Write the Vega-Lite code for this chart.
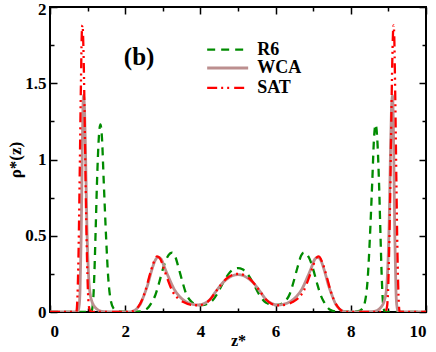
{
  "$schema": "https://vega.github.io/schema/vega-lite/v6.json",
  "width": 376,
  "height": 305,
  "autosize": "none",
  "padding": {"left": 50, "top": 7, "right": 10, "bottom": 40},
  "background": "white",
  "config": {
    "view": {"stroke": "black", "strokeWidth": 2},
    "axis": {
      "labelFont": "Liberation Serif", "labelFontWeight": "bold", "labelFontSize": 17, "labelColor": "black",
      "titleFont": "Liberation Serif", "titleFontWeight": "bold", "titleFontSize": 18, "titleColor": "black",
      "grid": false, "domain": false, "tickColor": "black", "tickWidth": 1.5
    }
  },
  "datasets": {
    "curves": [
      {"s":"R6","x":0,"y":0},{"s":"R6","x":0.5,"y":0},{"s":"R6","x":1.0,"y":0},{"s":"R6","x":1.1,"y":0.005},
      {"s":"R6","x":1.14,"y":0.05},{"s":"R6","x":1.18,"y":0.25},{"s":"R6","x":1.21,"y":0.5},{"s":"R6","x":1.25,"y":0.85},
      {"s":"R6","x":1.3,"y":1.15},{"s":"R6","x":1.34,"y":1.23},{"s":"R6","x":1.38,"y":1.15},{"s":"R6","x":1.43,"y":0.85},
      {"s":"R6","x":1.49,"y":0.5},{"s":"R6","x":1.55,"y":0.22},{"s":"R6","x":1.62,"y":0.07},{"s":"R6","x":1.7,"y":0.02},
      {"s":"R6","x":1.8,"y":0.005},{"s":"R6","x":1.95,"y":0.002},{"s":"R6","x":2.2,"y":0.002},{"s":"R6","x":2.4,"y":0.004},
      {"s":"R6","x":2.55,"y":0.015},{"s":"R6","x":2.7,"y":0.06},{"s":"R6","x":2.8,"y":0.11},{"s":"R6","x":2.9,"y":0.19},
      {"s":"R6","x":3.0,"y":0.28},{"s":"R6","x":3.1,"y":0.35},{"s":"R6","x":3.2,"y":0.385},{"s":"R6","x":3.25,"y":0.39},
      {"s":"R6","x":3.32,"y":0.37},{"s":"R6","x":3.42,"y":0.29},{"s":"R6","x":3.52,"y":0.2},{"s":"R6","x":3.62,"y":0.12},
      {"s":"R6","x":3.75,"y":0.07},{"s":"R6","x":3.9,"y":0.048},{"s":"R6","x":4.05,"y":0.045},{"s":"R6","x":4.2,"y":0.055},
      {"s":"R6","x":4.3,"y":0.07},{"s":"R6","x":4.45,"y":0.12},{"s":"R6","x":4.6,"y":0.19},{"s":"R6","x":4.75,"y":0.25},
      {"s":"R6","x":4.88,"y":0.28},{"s":"R6","x":5.0,"y":0.288},
      {"s":"R6","x":5.12,"y":0.28},{"s":"R6","x":5.25,"y":0.25},{"s":"R6","x":5.4,"y":0.19},{"s":"R6","x":5.55,"y":0.12},
      {"s":"R6","x":5.7,"y":0.07},{"s":"R6","x":5.8,"y":0.055},{"s":"R6","x":5.95,"y":0.045},{"s":"R6","x":6.1,"y":0.048},
      {"s":"R6","x":6.25,"y":0.07},{"s":"R6","x":6.38,"y":0.12},{"s":"R6","x":6.48,"y":0.2},{"s":"R6","x":6.58,"y":0.29},
      {"s":"R6","x":6.68,"y":0.37},{"s":"R6","x":6.75,"y":0.39},{"s":"R6","x":6.8,"y":0.385},{"s":"R6","x":6.9,"y":0.35},
      {"s":"R6","x":7.0,"y":0.28},{"s":"R6","x":7.1,"y":0.19},{"s":"R6","x":7.2,"y":0.11},{"s":"R6","x":7.3,"y":0.06},
      {"s":"R6","x":7.45,"y":0.015},{"s":"R6","x":7.6,"y":0.004},{"s":"R6","x":7.8,"y":0.002},{"s":"R6","x":8.05,"y":0.002},
      {"s":"R6","x":8.2,"y":0.005},{"s":"R6","x":8.3,"y":0.02},{"s":"R6","x":8.38,"y":0.07},{"s":"R6","x":8.45,"y":0.22},
      {"s":"R6","x":8.51,"y":0.5},{"s":"R6","x":8.57,"y":0.85},{"s":"R6","x":8.62,"y":1.15},{"s":"R6","x":8.66,"y":1.23},
      {"s":"R6","x":8.7,"y":1.15},{"s":"R6","x":8.75,"y":0.85},{"s":"R6","x":8.79,"y":0.5},{"s":"R6","x":8.82,"y":0.25},
      {"s":"R6","x":8.86,"y":0.05},{"s":"R6","x":8.9,"y":0.005},{"s":"R6","x":9.0,"y":0},{"s":"R6","x":9.5,"y":0},{"s":"R6","x":10,"y":0},

      {"s":"WCA","x":0,"y":0},{"s":"WCA","x":0.5,"y":0},{"s":"WCA","x":0.74,"y":0},{"s":"WCA","x":0.78,"y":0.05},
      {"s":"WCA","x":0.8,"y":0.15},{"s":"WCA","x":0.83,"y":0.5},{"s":"WCA","x":0.86,"y":1.1},{"s":"WCA","x":0.89,"y":1.42},
      {"s":"WCA","x":0.92,"y":1.32},{"s":"WCA","x":0.95,"y":0.98},{"s":"WCA","x":0.98,"y":0.58},{"s":"WCA","x":1.02,"y":0.27},
      {"s":"WCA","x":1.06,"y":0.13},{"s":"WCA","x":1.12,"y":0.065},{"s":"WCA","x":1.2,"y":0.03},{"s":"WCA","x":1.3,"y":0.01},
      {"s":"WCA","x":1.45,"y":0.002},{"s":"WCA","x":1.8,"y":0},{"s":"WCA","x":2.1,"y":0.001},{"s":"WCA","x":2.2,"y":0.005},
      {"s":"WCA","x":2.3,"y":0.02},{"s":"WCA","x":2.4,"y":0.05},{"s":"WCA","x":2.5,"y":0.11},{"s":"WCA","x":2.6,"y":0.18},
      {"s":"WCA","x":2.7,"y":0.27},{"s":"WCA","x":2.8,"y":0.34},{"s":"WCA","x":2.88,"y":0.36},{"s":"WCA","x":2.96,"y":0.345},
      {"s":"WCA","x":3.05,"y":0.29},{"s":"WCA","x":3.15,"y":0.23},{"s":"WCA","x":3.3,"y":0.15},{"s":"WCA","x":3.45,"y":0.1},
      {"s":"WCA","x":3.6,"y":0.07},{"s":"WCA","x":3.8,"y":0.05},{"s":"WCA","x":3.95,"y":0.046},{"s":"WCA","x":4.1,"y":0.055},
      {"s":"WCA","x":4.25,"y":0.08},{"s":"WCA","x":4.4,"y":0.13},{"s":"WCA","x":4.55,"y":0.18},{"s":"WCA","x":4.7,"y":0.215},
      {"s":"WCA","x":4.85,"y":0.238},{"s":"WCA","x":5.0,"y":0.245},
      {"s":"WCA","x":5.15,"y":0.238},{"s":"WCA","x":5.3,"y":0.215},{"s":"WCA","x":5.45,"y":0.18},{"s":"WCA","x":5.6,"y":0.13},
      {"s":"WCA","x":5.75,"y":0.08},{"s":"WCA","x":5.9,"y":0.055},{"s":"WCA","x":6.05,"y":0.046},{"s":"WCA","x":6.2,"y":0.05},
      {"s":"WCA","x":6.4,"y":0.07},{"s":"WCA","x":6.55,"y":0.1},{"s":"WCA","x":6.7,"y":0.15},{"s":"WCA","x":6.85,"y":0.23},
      {"s":"WCA","x":6.95,"y":0.29},{"s":"WCA","x":7.04,"y":0.345},{"s":"WCA","x":7.12,"y":0.36},{"s":"WCA","x":7.2,"y":0.34},
      {"s":"WCA","x":7.3,"y":0.27},{"s":"WCA","x":7.4,"y":0.18},{"s":"WCA","x":7.5,"y":0.11},{"s":"WCA","x":7.6,"y":0.05},
      {"s":"WCA","x":7.7,"y":0.02},{"s":"WCA","x":7.8,"y":0.005},{"s":"WCA","x":7.9,"y":0.001},{"s":"WCA","x":8.2,"y":0},
      {"s":"WCA","x":8.55,"y":0.002},{"s":"WCA","x":8.7,"y":0.01},{"s":"WCA","x":8.8,"y":0.03},{"s":"WCA","x":8.88,"y":0.065},
      {"s":"WCA","x":8.94,"y":0.13},{"s":"WCA","x":8.98,"y":0.27},{"s":"WCA","x":9.02,"y":0.58},{"s":"WCA","x":9.05,"y":0.98},
      {"s":"WCA","x":9.08,"y":1.32},{"s":"WCA","x":9.11,"y":1.42},{"s":"WCA","x":9.14,"y":1.1},{"s":"WCA","x":9.17,"y":0.5},
      {"s":"WCA","x":9.2,"y":0.15},{"s":"WCA","x":9.22,"y":0.05},{"s":"WCA","x":9.26,"y":0},{"s":"WCA","x":9.5,"y":0},{"s":"WCA","x":10,"y":0},

      {"s":"SAT","x":0,"y":0},{"s":"SAT","x":0.5,"y":0},{"s":"SAT","x":0.7,"y":0},{"s":"SAT","x":0.73,"y":0.1},
      {"s":"SAT","x":0.76,"y":0.4},{"s":"SAT","x":0.79,"y":0.9},{"s":"SAT","x":0.82,"y":1.45},{"s":"SAT","x":0.85,"y":1.85},
      {"s":"SAT","x":0.865,"y":1.88},{"s":"SAT","x":0.89,"y":1.72},{"s":"SAT","x":0.92,"y":1.3},{"s":"SAT","x":0.95,"y":0.8},
      {"s":"SAT","x":0.98,"y":0.4},{"s":"SAT","x":1.01,"y":0.13},{"s":"SAT","x":1.04,"y":0.03},{"s":"SAT","x":1.08,"y":0.005},
      {"s":"SAT","x":1.2,"y":0},{"s":"SAT","x":2.1,"y":0},{"s":"SAT","x":2.25,"y":0.01},{"s":"SAT","x":2.35,"y":0.035},
      {"s":"SAT","x":2.45,"y":0.08},{"s":"SAT","x":2.55,"y":0.15},{"s":"SAT","x":2.65,"y":0.24},{"s":"SAT","x":2.75,"y":0.32},
      {"s":"SAT","x":2.85,"y":0.365},{"s":"SAT","x":2.93,"y":0.35},{"s":"SAT","x":3.02,"y":0.29},{"s":"SAT","x":3.12,"y":0.22},
      {"s":"SAT","x":3.25,"y":0.14},{"s":"SAT","x":3.4,"y":0.09},{"s":"SAT","x":3.55,"y":0.065},{"s":"SAT","x":3.75,"y":0.047},
      {"s":"SAT","x":3.95,"y":0.044},{"s":"SAT","x":4.1,"y":0.053},{"s":"SAT","x":4.25,"y":0.08},{"s":"SAT","x":4.4,"y":0.13},
      {"s":"SAT","x":4.55,"y":0.18},{"s":"SAT","x":4.7,"y":0.22},{"s":"SAT","x":4.85,"y":0.243},{"s":"SAT","x":5.0,"y":0.25},
      {"s":"SAT","x":5.15,"y":0.243},{"s":"SAT","x":5.3,"y":0.22},{"s":"SAT","x":5.45,"y":0.18},{"s":"SAT","x":5.6,"y":0.13},
      {"s":"SAT","x":5.75,"y":0.08},{"s":"SAT","x":5.9,"y":0.053},{"s":"SAT","x":6.05,"y":0.044},{"s":"SAT","x":6.25,"y":0.047},
      {"s":"SAT","x":6.45,"y":0.065},{"s":"SAT","x":6.6,"y":0.09},{"s":"SAT","x":6.75,"y":0.14},{"s":"SAT","x":6.88,"y":0.22},
      {"s":"SAT","x":6.98,"y":0.29},{"s":"SAT","x":7.07,"y":0.35},{"s":"SAT","x":7.15,"y":0.365},{"s":"SAT","x":7.25,"y":0.32},
      {"s":"SAT","x":7.35,"y":0.24},{"s":"SAT","x":7.45,"y":0.15},{"s":"SAT","x":7.55,"y":0.08},{"s":"SAT","x":7.65,"y":0.035},
      {"s":"SAT","x":7.75,"y":0.01},{"s":"SAT","x":7.9,"y":0},{"s":"SAT","x":8.8,"y":0},{"s":"SAT","x":8.92,"y":0.005},
      {"s":"SAT","x":8.96,"y":0.03},{"s":"SAT","x":8.99,"y":0.13},{"s":"SAT","x":9.02,"y":0.4},{"s":"SAT","x":9.05,"y":0.8},
      {"s":"SAT","x":9.08,"y":1.3},{"s":"SAT","x":9.11,"y":1.72},{"s":"SAT","x":9.135,"y":1.88},{"s":"SAT","x":9.15,"y":1.85},
      {"s":"SAT","x":9.18,"y":1.45},{"s":"SAT","x":9.21,"y":0.9},{"s":"SAT","x":9.24,"y":0.4},{"s":"SAT","x":9.27,"y":0.1},
      {"s":"SAT","x":9.3,"y":0},{"s":"SAT","x":9.5,"y":0},{"s":"SAT","x":10,"y":0}
    ]
  },
  "layer": [
    {
      "data": {"name": "curves"},
      "transform": [{"filter": "datum.s === 'R6'"}],
      "mark": {"type": "line", "color": "#008B00", "strokeWidth": 2.3, "strokeDash": [8, 6], "interpolate": "monotone", "clip": true},
      "encoding": {
        "x": {"field": "x", "type": "quantitative", "scale": {"domain": [0, 10], "nice": false},
              "axis": {"orient": "bottom", "values": [0, 2, 4, 6, 8, 10], "format": "d", "tickSize": -7, "labelPadding": 18, "title": "z*", "titlePadding": -7, "titleFontSize": 16}},
        "y": {"field": "y", "type": "quantitative", "scale": {"domain": [0, 2], "nice": false},
              "axis": {"orient": "left", "values": [0, 0.5, 1, 1.5, 2], "format": "~g", "tickSize": -7, "labelPadding": 11,
                       "labelOffset": {"condition": {"test": "datum.value === 2", "value": 2}, "value": 0},
                       "title": "ρ*(z)", "titlePadding": 0, "titleFontSize": 17}}
      }
    },
    {
      "data": {"name": "curves"},
      "transform": [{"filter": "datum.s === 'WCA'"}],
      "mark": {"type": "line", "color": "#BC8F8F", "strokeWidth": 2.8, "interpolate": "monotone", "clip": true},
      "encoding": {
        "x": {"field": "x", "type": "quantitative",
              "axis": {"orient": "bottom", "values": [1, 3, 5, 7, 9], "tickSize": -4, "labels": false, "title": null}},
        "y": {"field": "y", "type": "quantitative",
              "axis": {"orient": "left", "values": [0.25, 0.75, 1.25, 1.75], "tickSize": -4, "labels": false, "title": null}}
      }
    },
    {
      "data": {"name": "curves"},
      "transform": [{"filter": "datum.s === 'SAT'"}],
      "mark": {"type": "line", "color": "#FF0000", "strokeWidth": 2.3, "strokeDash": [10, 4, 2, 4, 2, 5], "interpolate": "monotone", "clip": true},
      "encoding": {
        "x": {"field": "x", "type": "quantitative",
              "axis": {"orient": "top", "values": [0, 2, 4, 6, 8, 10], "tickSize": -7, "labels": false, "title": null}},
        "y": {"field": "y", "type": "quantitative",
              "axis": {"orient": "right", "values": [0, 0.5, 1, 1.5, 2], "tickSize": -7, "labels": false, "title": null}}
      }
    },
    {
      "data": {"values": [{"label": "R6"}]},
      "mark": {"type": "rule", "color": "#008B00", "strokeWidth": 2.3, "strokeDash": [8, 6]},
      "encoding": {
        "x": {"datum": 4.18, "type": "quantitative", "axis": {"orient": "top", "values": [1, 3, 5, 7, 9], "tickSize": -4, "labels": false, "title": null}},
        "x2": {"datum": 5.27},
        "y": {"datum": 1.72, "type": "quantitative", "axis": {"orient": "right", "values": [0.25, 0.75, 1.25, 1.75], "tickSize": -4, "labels": false, "title": null}}
      }
    },
    {
      "data": {"values": [{"label": "WCA"}]},
      "mark": {"type": "rule", "color": "#BC8F8F", "strokeWidth": 2.8},
      "encoding": {
        "x": {"datum": 4.18, "type": "quantitative", "axis": null},
        "x2": {"datum": 5.27},
        "y": {"datum": 1.6, "type": "quantitative", "axis": null}
      }
    },
    {
      "data": {"values": [{"label": "SAT"}]},
      "mark": {"type": "rule", "color": "#FF0000", "strokeWidth": 2.3, "strokeDash": [10, 4, 2, 4, 2, 5]},
      "encoding": {
        "x": {"datum": 4.18, "type": "quantitative", "axis": null},
        "x2": {"datum": 5.27},
        "y": {"datum": 1.47, "type": "quantitative", "axis": null}
      }
    },
    {
      "data": {"values": [{"label": "R6", "ly": 1.72}, {"label": "WCA", "ly": 1.6}, {"label": "SAT", "ly": 1.47}]},
      "mark": {"type": "text", "font": "Liberation Serif", "fontWeight": "bold", "fontSize": 18, "align": "left", "baseline": "middle", "color": "black"},
      "encoding": {
        "x": {"datum": 5.51, "type": "quantitative", "axis": null},
        "y": {"field": "ly", "type": "quantitative", "axis": null},
        "text": {"field": "label"}
      }
    },
    {
      "data": {"values": [{"label": "(b)"}]},
      "mark": {"type": "text", "font": "Liberation Serif", "fontWeight": "bold", "fontSize": 25, "align": "center", "baseline": "middle", "color": "black"},
      "encoding": {
        "x": {"datum": 2.37, "type": "quantitative", "axis": null},
        "y": {"datum": 1.67, "type": "quantitative", "axis": null},
        "text": {"field": "label"}
      }
    }
  ],
  "resolve": {"axis": {"x": "independent", "y": "independent"}}
}
